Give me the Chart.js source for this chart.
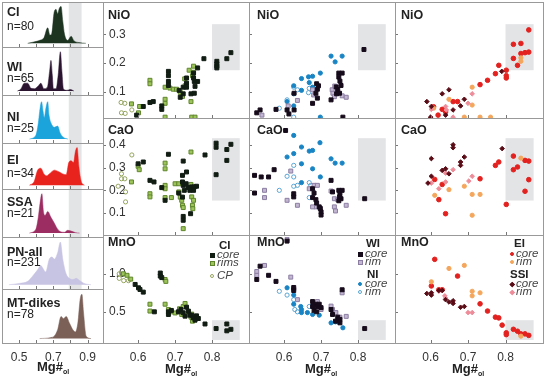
<!DOCTYPE html>
<html>
<head>
<meta charset="utf-8">
<script src="https://cdn.jsdelivr.net/npm/chart.js@4.4.1/dist/chart.umd.min.js"></script>
<style>
  body { margin: 0; background: #fff; overflow: hidden; }
  #fig { position: relative; width: 550px; height: 379px; font-family: 'Liberation Sans', Arial, sans-serif; color: #222; }
  #fig canvas { position: absolute; }
  .t { position: absolute; white-space: nowrap; line-height: 1; }
  .b { font-weight: bold; }
  .i { font-style: italic; color: #444; }
  .mk { position: absolute; box-sizing: border-box; }
</style>
</head>
<body>
<div id="fig"></div>
<script>
// ---------- density curves (Mg#ol, relative height) ----------
const ciDensity = [[0.55,0],[0.58,0.03],[0.62,0.08],[0.645,0.15],[0.667,0.42],[0.68,0.22],[0.69,0.25],[0.705,0.85],[0.716,0.92],[0.725,0.8],[0.735,0.95],[0.745,1.0],[0.755,0.6],[0.765,0.25],[0.784,0.08],[0.804,0.19],[0.82,0.07],[0.85,0.02],[0.89,0]];
const wiDensity = [[0.49,0],[0.51,0.05],[0.53,0.2],[0.55,0.2],[0.57,0.07],[0.59,0.06],[0.61,0.12],[0.627,0.2],[0.645,0.06],[0.665,0.1],[0.678,0.5],[0.686,0.78],[0.694,0.4],[0.70,0.06],[0.716,0.06],[0.728,0.4],[0.741,1.0],[0.75,0.5],[0.759,0.05],[0.78,0.02],[0.80,0.04],[0.82,0]];
const niDensity = [[0.56,0],[0.598,0.1],[0.612,0.4],[0.62,0.7],[0.631,0.95],[0.64,0.7],[0.647,0.55],[0.657,0.8],[0.667,0.95],[0.675,0.6],[0.685,0.42],[0.706,0.3],[0.725,0.33],[0.74,0.15],[0.76,0.04],[0.785,0]];
const eiDensity = [[0.56,0],[0.588,0.1],[0.608,0.4],[0.627,0.45],[0.645,0.3],[0.66,0.25],[0.676,0.3],[0.706,0.4],[0.735,0.35],[0.755,0.3],[0.775,0.28],[0.79,0.6],[0.804,0.65],[0.818,0.6],[0.829,0.9],[0.839,1.0],[0.849,0.5],[0.863,0.1],[0.882,0]];
const ssaDensity = [[0.56,0],[0.598,0.1],[0.612,0.4],[0.622,0.75],[0.633,1.0],[0.642,0.55],[0.652,0.45],[0.667,0.55],[0.686,0.4],[0.706,0.25],[0.725,0.1],[0.745,0.03],[0.765,0.02],[0.784,0.07],[0.804,0.05],[0.83,0.01],[0.853,0]];
const pnDensity = [[0.44,0],[0.50,0.03],[0.55,0.08],[0.578,0.2],[0.608,0.35],[0.627,0.45],[0.637,0.4],[0.655,0.3],[0.676,0.6],[0.692,0.65],[0.706,0.6],[0.725,0.75],[0.741,1.0],[0.755,0.6],[0.775,0.25],[0.794,0.15],[0.814,0.12],[0.833,0.15],[0.853,0.1],[0.88,0.03],[0.92,0]];
const mtDensity = [[0.62,0],[0.68,0.02],[0.706,0.06],[0.725,0.2],[0.745,0.5],[0.759,0.45],[0.775,0.5],[0.794,0.35],[0.814,0.2],[0.829,0.15],[0.843,0.35],[0.857,0.9],[0.867,1.0],[0.876,0.6],[0.892,0.05],[0.92,0]];

const densityNames = ['CI', 'WI', 'NI', 'EI', 'SSA', 'PN-all', 'MT-dikes'];
const densityCounts = ['n=80', 'n=65', 'n=25', 'n=34', 'n=21', 'n=231', 'n=78'];

// ---------- CI (Mg#ol, oxide wt%) ----------
const ciCoreNiO = [[0.778,0.215],[0.813,0.206],[0.813,0.197],[0.813,0.189],[0.813,0.183],[0.84,0.215],[0.851,0.236],[0.682,0.171],[0.682,0.156],[0.682,0.136],[0.682,0.122],[0.75,0.165],[0.75,0.148],[0.752,0.136],[0.754,0.119],[0.731,0.148],[0.731,0.13],[0.731,0.116],[0.761,0.136],[0.722,0.116],[0.722,0.093],[0.711,0.105],[0.714,0.081],[0.743,0.093],[0.752,0.095],[0.664,0.051],[0.664,0.039],[0.641,0.066],[0.632,0.063],[0.614,0.049],[0.596,0.019],[0.761,0.183]];
const ciRimNiO = [[0.632,0.14],[0.632,0.128],[0.673,0.116],[0.673,0.074],[0.673,0.06],[0.686,0.113],[0.695,0.109],[0.704,0.109],[0.714,0.098],[0.727,0.121],[0.75,0.189],[0.75,0.168],[0.747,0.156],[0.72,0.084],[0.743,0.066],[0.582,0.058],[0.604,0.049],[0.601,0.027],[0.673,0.012],[0.745,0.012],[0.754,0.012],[0.738,0.175],[0.726,0.145]];
const ciCpNiO = [[0.554,0.063],[0.564,0.06],[0.555,0.027],[0.565,0.025],[0.583,0.037]];
const ciCoreCaO = [[0.811,0.408],[0.811,0.39],[0.781,0.356],[0.84,0.38],[0.851,0.403],[0.84,0.332],[0.811,0.269],[0.682,0.359],[0.722,0.329],[0.731,0.281],[0.614,0.325],[0.6,0.317],[0.632,0.244],[0.643,0.237],[0.664,0.212],[0.673,0.156],[0.72,0.266],[0.72,0.237],[0.722,0.222],[0.725,0.2],[0.73,0.229],[0.735,0.212],[0.745,0.215],[0.752,0.215],[0.758,0.218],[0.74,0.2],[0.75,0.2],[0.71,0.188],[0.72,0.17],[0.722,0.085],[0.722,0.068],[0.742,0.097]];
const ciRimCaO = [[0.673,0.32],[0.673,0.295],[0.6,0.306],[0.603,0.291],[0.582,0.237],[0.632,0.185],[0.632,0.171],[0.673,0.222],[0.673,0.207],[0.673,0.168],[0.69,0.168],[0.7,0.229],[0.71,0.229],[0.743,0.369],[0.743,0.226],[0.745,0.171],[0.75,0.156],[0.747,0.134],[0.748,0.119],[0.71,0.193],[0.714,0.17],[0.718,0.156],[0.72,0.134],[0.722,0.124],[0.722,0.031]];
const ciCpCaO = [[0.583,0.356],[0.555,0.273],[0.555,0.251],[0.564,0.251],[0.546,0.218],[0.566,0.193],[0.566,0.149]];
const ciCoreMnO = [[0.592,0.86],[0.601,0.816],[0.605,0.794],[0.614,0.759],[0.66,1.01],[0.66,0.97],[0.664,0.95],[0.644,0.5],[0.682,0.5],[0.682,0.465],[0.69,0.518],[0.709,0.5],[0.716,0.53],[0.722,0.487],[0.727,0.443],[0.731,0.561],[0.736,0.509],[0.74,0.456],[0.745,0.456],[0.749,0.421],[0.754,0.39],[0.758,0.447],[0.763,0.412],[0.781,0.34],[0.811,0.28],[0.84,0.34],[0.84,0.25],[0.851,0.27]];
const ciRimMnO = [[0.56,1.0],[0.57,0.98],[0.58,0.93],[0.673,0.925],[0.675,0.9],[0.632,0.6],[0.632,0.51],[0.673,0.6],[0.682,0.53],[0.69,0.5],[0.7,0.485],[0.711,0.5],[0.718,0.465],[0.722,0.57],[0.727,0.61],[0.736,0.5],[0.743,0.43],[0.747,0.377],[0.754,0.408],[0.712,0.54],[0.745,0.47]];
const ciCpMnO = [[0.549,1.0],[0.549,0.94],[0.561,0.91],[0.574,0.91]];

// ---------- WI / NI ----------
const wiCoreNiO = [[0.816,0.247],[0.748,0.165],[0.757,0.165],[0.748,0.151],[0.751,0.137],[0.754,0.122],[0.745,0.108],[0.741,0.117],[0.742,0.093],[0.75,0.095],[0.688,0.128],[0.693,0.121],[0.69,0.109],[0.686,0.095],[0.69,0.078],[0.677,0.06],[0.727,0.072],[0.627,0.095],[0.627,0.037],[0.608,0.037],[0.613,0.023],[0.578,0.039],[0.526,0.027],[0.535,0.037],[0.759,0.012]];
const wiRimNiO = [[0.636,0.07],[0.677,0.107],[0.68,0.089],[0.73,0.107],[0.732,0.095],[0.736,0.083],[0.757,0.086],[0.768,0.081],[0.611,0.051],[0.54,0.019],[0.745,0.1],[0.737,0.12]];
const niCoreNiO = [[0.727,0.224],[0.757,0.224],[0.738,0.204],[0.698,0.165],[0.647,0.146],[0.666,0.152],[0.677,0.154],[0.668,0.132],[0.677,0.116],[0.626,0.121],[0.626,0.093],[0.626,0.051],[0.647,0.105],[0.608,0.066],[0.698,0.012]];
const niRimNiO = [[0.626,0.116],[0.636,0.107],[0.668,0.112],[0.666,0.097],[0.608,0.072],[0.587,0.043],[0.626,0.012]];
const wiCoreCaO = [[0.818,0.163],[0.604,0.464],[0.573,0.291],[0.52,0.266],[0.538,0.259],[0.558,0.259],[0.52,0.188],[0.626,0.185],[0.626,0.171],[0.727,0.244],[0.731,0.193],[0.748,0.2],[0.751,0.185],[0.757,0.2],[0.754,0.163],[0.75,0.171],[0.748,0.154],[0.677,0.207],[0.681,0.188],[0.677,0.168],[0.686,0.159],[0.688,0.144],[0.695,0.127],[0.698,0.12],[0.7,0.105],[0.7,0.091]];
const wiRimCaO = [[0.618,0.285],[0.547,0.2],[0.547,0.168],[0.608,0.156],[0.636,0.134],[0.681,0.222],[0.69,0.222],[0.668,0.207],[0.727,0.197],[0.736,0.163],[0.745,0.159],[0.736,0.127],[0.739,0.109],[0.768,0.134],[0.686,0.127],[0.677,0.127]];
const niCoreCaO = [[0.626,0.442],[0.647,0.391],[0.668,0.373],[0.677,0.376],[0.697,0.41],[0.626,0.362],[0.608,0.347],[0.647,0.317],[0.677,0.295],[0.727,0.339],[0.738,0.32],[0.757,0.32],[0.698,0.259],[0.647,0.234]];
const niRimCaO = [[0.626,0.31],[0.608,0.262],[0.626,0.259],[0.587,0.2],[0.626,0.218],[0.636,0.222],[0.668,0.234],[0.672,0.222],[0.668,0.168]];
const wiCoreMnO = [[0.608,1.43],[0.535,1.1],[0.526,0.925],[0.558,0.98],[0.578,0.9],[0.626,0.82],[0.626,0.78],[0.677,0.635],[0.686,0.6],[0.69,0.57],[0.695,0.6],[0.7,0.555],[0.677,0.57],[0.681,0.52],[0.688,0.5],[0.727,0.53],[0.731,0.465],[0.739,0.377],[0.745,0.43],[0.751,0.4],[0.751,0.355],[0.757,0.79],[0.818,0.28]];
const wiRimMnO = [[0.608,1.45],[0.547,1.11],[0.526,1.03],[0.618,0.956],[0.626,0.8],[0.636,0.66],[0.69,0.635],[0.7,0.53],[0.727,0.575],[0.731,0.53],[0.74,0.49],[0.751,0.43],[0.757,0.75],[0.768,0.44],[0.526,0.98]];
const niCoreMnO = [[0.608,0.816],[0.626,0.72],[0.626,0.6],[0.645,0.57],[0.647,0.53],[0.647,0.49],[0.663,0.49],[0.677,0.465],[0.695,0.456],[0.727,0.355],[0.739,0.368],[0.745,0.377],[0.759,0.29]];
const niRimMnO = [[0.587,0.77],[0.608,0.72],[0.626,0.66],[0.629,0.53],[0.636,0.5],[0.668,0.57]];

// ---------- EI / SSI ----------
const eiCoreNiO = [[0.862,0.315],[0.821,0.265],[0.841,0.268],[0.841,0.233],[0.852,0.236],[0.862,0.238],[0.821,0.216],[0.832,0.192],[0.802,0.175],[0.802,0.156],[0.802,0.148],[0.782,0.192],[0.773,0.163],[0.752,0.14],[0.732,0.125],[0.672,0.066],[0.66,0.066],[0.631,0.039],[0.62,0.019],[0.64,0.03],[0.608,0.048]];
const eiRimNiO = [[0.841,0.218],[0.841,0.206],[0.711,0.116],[0.711,0.054],[0.649,0.074],[0.608,0.043],[0.69,0.012],[0.732,0.012],[0.76,0.012]];
const ssiCoreNiO = [[0.59,0.066],[0.631,0.093],[0.649,0.107],[0.69,0.074],[0.68,0.051],[0.66,0.037],[0.64,0.019],[0.602,0.049],[0.79,0.171],[0.60,0.012]];
const ssiRimNiO = [[0.7,0.06],[0.711,0.093],[0.64,0.049],[0.642,0.037],[0.602,0.039],[0.66,0.012]];
const eiCoreCaO = [[0.821,0.351],[0.852,0.332],[0.862,0.329],[0.832,0.303],[0.821,0.291],[0.862,0.247],[0.852,0.196],[0.802,0.138],[0.782,0.325],[0.773,0.31],[0.732,0.251],[0.631,0.226],[0.611,0.248],[0.622,0.159],[0.64,0.097]];
const eiRimCaO = [[0.841,0.342],[0.611,0.178],[0.649,0.203],[0.69,0.218],[0.711,0.182],[0.732,0.182],[0.711,0.09]];
const ssiCoreCaO = [[0.66,0.401],[0.66,0.388],[0.602,0.34],[0.69,0.347],[0.68,0.325],[0.68,0.31],[0.64,0.295],[0.631,0.288],[0.649,0.273],[0.602,0.262],[0.593,0.232],[0.791,0.384]];
const ssiRimCaO = [[0.66,0.291],[0.64,0.276],[0.64,0.237],[0.602,0.232],[0.622,0.207],[0.711,0.262],[0.702,0.241]];
const eiCoreMnO = [[0.611,1.19],[0.672,0.97],[0.732,0.605],[0.752,0.51],[0.773,0.43],[0.782,0.42],[0.791,0.325],[0.802,0.224],[0.802,0.2],[0.821,0.27],[0.832,0.245],[0.841,0.21],[0.852,0.21],[0.862,0.19],[0.602,0.84],[0.622,0.79],[0.631,0.79]];
const eiRimMnO = [[0.649,1.07],[0.69,1.11],[0.602,0.895],[0.711,0.77],[0.711,0.71],[0.732,0.75],[0.841,0.18]];
const ssiCoreMnO = [[0.59,0.74],[0.602,0.75],[0.602,0.72],[0.622,0.78],[0.631,0.78],[0.64,0.66],[0.649,0.63],[0.66,0.645],[0.66,0.61],[0.68,0.56],[0.69,0.57]];
const ssiRimMnO = [[0.622,0.77],[0.638,0.71],[0.64,0.68],[0.7,0.49],[0.711,0.49]];

// ---------- ticks and shaded Mg# > 0.8 fields ----------
const mgTicks = [0.6, 0.7, 0.8];
const densityTicks = [0.5, 0.6, 0.7, 0.8, 0.9];
const densityLabels = [0.5, 0.7, 0.9];
const nioTicks = [0.1, 0.2, 0.3];
const caoTicks = [0.1, 0.2, 0.3, 0.4];
const mnoTicks = [0.5, 1.0];
const densityBand = [0.79, 0.865];
const nioBox = [0.8, 0.875, 0.175, 0.335];
const caoBox = [0.8, 0.875, 0.155, 0.43];
const mnoBox = [0.8, 0.875, 0.13, 0.39];

// ---------- layout ----------
const fig = document.getElementById('fig');
const FONT = "'Liberation Sans', Arial, sans-serif";
Chart.defaults.font.family = FONT;
Chart.defaults.color = '#333';

const leftX = [2, 103];
const densTop = [2, 47, 95, 143, 189, 237, 289, 343];
const colEdge = [103, 249, 395, 543];
const rowEdge = [2, 118, 235, 343];
const AXIS_H = 22;

const densityColors = ['#1d3520', '#2b1430', '#1ba3dc', '#e8231e', '#9c2d62', '#c7c3e3', '#7b6058'];
const markStyle = {
  ciCore: { pointStyle: 'rect', pointRadius: 2.8, pointBackgroundColor: '#111c13', pointBorderColor: '#111c13' },
  ciRim:  { pointStyle: 'rect', pointRadius: 2.8, pointBackgroundColor: '#9cc45a', pointBorderColor: '#5f852b' },
  ciCP:   { pointStyle: 'circle', pointRadius: 2.1, pointBackgroundColor: 'rgba(0,0,0,0)', pointBorderColor: '#94a35e' },
  wiCore: { pointStyle: 'rect', pointRadius: 2.8, pointBackgroundColor: '#160b1a', pointBorderColor: '#160b1a' },
  wiRim:  { pointStyle: 'rect', pointRadius: 2.8, pointBackgroundColor: '#c2b6d2', pointBorderColor: '#8c7ea2' },
  niCore: { pointStyle: 'circle', pointRadius: 2.1, pointBackgroundColor: '#1884c4', pointBorderColor: '#1884c4' },
  niRim:  { pointStyle: 'circle', pointRadius: 2.1, pointBackgroundColor: 'rgba(0,0,0,0)', pointBorderColor: '#5aa4d2' },
  eiCore: { pointStyle: 'circle', pointRadius: 2.3, pointBackgroundColor: '#e3211f', pointBorderColor: '#e3211f' },
  eiRim:  { pointStyle: 'circle', pointRadius: 2.1, pointBackgroundColor: '#f4a65c', pointBorderColor: '#f4a65c' },
  ssiCore:{ pointStyle: 'rectRot', pointRadius: 2.3, pointBackgroundColor: '#5a0c16', pointBorderColor: '#5a0c16' },
  ssiRim: { pointStyle: 'rectRot', pointRadius: 2.3, pointBackgroundColor: '#ee8c99', pointBorderColor: '#ee8c99' }
};

// frame + inward tick marks
const frameTicks = {
  id: 'frameTicks',
  afterDraw(chart, args, opts) {
    const { ctx, chartArea: a, scales } = chart;
    ctx.save();
    ctx.lineWidth = 1;
    ctx.strokeStyle = '#777';
    ctx.beginPath();
    (opts.x || []).forEach(v => {
      const px = Math.round(scales.x.getPixelForValue(v)) + 0.5;
      ctx.moveTo(px, a.bottom); ctx.lineTo(px, a.bottom - 3);
    });
    (opts.y || []).forEach(v => {
      const py = Math.round(scales.y.getPixelForValue(v)) + 0.5;
      ctx.moveTo(a.left, py); ctx.lineTo(a.left + 3, py);
    });
    ctx.stroke();
    ctx.strokeStyle = '#999';
    ctx.strokeRect(a.left + 0.5, a.top + 0.5, a.right - a.left, a.bottom - a.top);
    ctx.restore();
  }
};

// grey field behind the marks
const greyField = {
  id: 'greyField',
  beforeDatasetsDraw(chart, args, opts) {
    if (!opts.box) return;
    const { ctx, chartArea: a, scales } = chart;
    const [x0, x1, y0, y1] = opts.box;
    const left = scales.x.getPixelForValue(x0), right = scales.x.getPixelForValue(x1);
    const top = y1 === null ? a.top : scales.y.getPixelForValue(y1);
    const bottom = y0 === null ? a.bottom : scales.y.getPixelForValue(y0);
    ctx.save();
    ctx.fillStyle = '#e3e4e6';
    ctx.fillRect(left, top, right - left, bottom - top);
    ctx.restore();
  }
};

function makeCanvas(x, y, w, h) {
  const c = document.createElement('canvas');
  c.width = w; c.height = h;
  c.style.left = x + 'px'; c.style.top = y + 'px';
  c.style.width = w + 'px'; c.style.height = h + 'px';
  fig.appendChild(c);
  return c.getContext('2d');
}

function addText(html, x, base, size, cls, center) {
  const d = document.createElement('div');
  d.className = 't ' + (cls || '');
  d.innerHTML = html;
  d.style.fontSize = size + 'px';
  d.style.top = (base - 0.86 * size) + 'px';
  d.style.left = x + 'px';
  if (center) d.style.transform = 'translateX(-50%)';
  fig.appendChild(d);
}

function addMarker(x, y, kind) {
  const s = markStyle[kind];
  const d = document.createElement('div');
  d.className = 'mk';
  const size = s.pointStyle === 'rect' ? 5 : 4.5;
  d.style.width = size + 'px'; d.style.height = size + 'px';
  d.style.left = (x - size / 2) + 'px'; d.style.top = (y - size / 2) + 'px';
  d.style.background = s.pointBackgroundColor;
  d.style.border = '1px solid ' + s.pointBorderColor;
  if (s.pointStyle === 'circle') d.style.borderRadius = '50%';
  if (s.pointStyle === 'rectRot') d.style.transform = 'rotate(45deg) scale(0.8)';
  fig.appendChild(d);
}

function xScale(min, max, tickVals, showLabels) {
  return {
    type: 'linear', min, max,
    grid: { display: false }, border: { display: false },
    ticks: { display: showLabels, padding: -1, autoSkip: false, maxRotation: 0,
             font: { size: 12 }, color: '#333', callback: v => v.toFixed(1) },
    afterBuildTicks: s => { s.ticks = tickVals.map(v => ({ value: v })); },
    afterFit: s => { s.height = showLabels ? AXIS_H : 0; s.paddingLeft = 0; s.paddingRight = 0; }
  };
}

function yScale(min, max, tickVals, showLabels) {
  return {
    type: 'linear', min, max,
    grid: { display: false }, border: { display: false },
    ticks: { display: showLabels, mirror: true, padding: 6, autoSkip: false,
             font: { size: 12 }, color: '#333', callback: v => v.toFixed(1) },
    afterBuildTicks: s => { s.ticks = tickVals.map(v => ({ value: v })); },
    afterFit: s => { s.width = 0; s.paddingTop = 0; s.paddingBottom = 0; }
  };
}

// ---------- density column ----------
const densitySeries = [ciDensity, wiDensity, niDensity, eiDensity, ssaDensity, pnDensity, mtDensity];
densitySeries.forEach((series, i) => {
  const last = i === densitySeries.length - 1;
  const top = densTop[i], h = densTop[i + 1] - top;
  const w = leftX[1] - leftX[0];
  const ctx = makeCanvas(leftX[0], top, w + 1, h + 1 + (last ? AXIS_H - 1 : 0));
  new Chart(ctx, {
    type: 'line',
    data: {
      datasets: [{
        data: series.map(([x, y]) => ({ x, y })),
        fill: 'origin',
        backgroundColor: densityColors[i],
        borderColor: densityColors[i],
        borderWidth: 0.5,
        pointRadius: 0,
        cubicInterpolationMode: 'monotone'
      }]
    },
    options: {
      responsive: false, animation: false, devicePixelRatio: 1,
      layout: { padding: { right: 1, bottom: last ? 0 : 1 }, autoPadding: false },
      scales: {
        x: xScale(0.4, 0.99, last ? densityLabels : densityTicks, last),
        y: yScale(-0.1, 1.12, [], false)
      },
      plugins: {
        legend: { display: false }, tooltip: { enabled: false },
        frameTicks: { x: densityTicks },
        greyField: last ? {} : { box: [densityBand[0], densityBand[1], null, null] }
      }
    },
    plugins: [greyField, frameTicks]
  });
});

// ---------- scatter panels ----------
const rows = [
  { label: 'NiO', min: 0.009, max: 0.412, ticks: nioTicks, box: nioBox },
  { label: 'CaO', min: 0.003, max: 0.519, ticks: caoTicks, box: caoBox },
  { label: 'MnO', min: 0.09, max: 1.51, ticks: mnoTicks, box: mnoBox }
];
const columns = [
  [[[ciCoreNiO, 'ciCore'], [ciRimNiO, 'ciRim'], [ciCpNiO, 'ciCP']],
   [[ciCoreCaO, 'ciCore'], [ciRimCaO, 'ciRim'], [ciCpCaO, 'ciCP']],
   [[ciCoreMnO, 'ciCore'], [ciRimMnO, 'ciRim'], [ciCpMnO, 'ciCP']]],
  [[[wiCoreNiO, 'wiCore'], [wiRimNiO, 'wiRim'], [niCoreNiO, 'niCore'], [niRimNiO, 'niRim']],
   [[wiCoreCaO, 'wiCore'], [wiRimCaO, 'wiRim'], [niCoreCaO, 'niCore'], [niRimCaO, 'niRim']],
   [[wiCoreMnO, 'wiCore'], [wiRimMnO, 'wiRim'], [niCoreMnO, 'niCore'], [niRimMnO, 'niRim']]],
  [[[ssiCoreNiO, 'ssiCore'], [ssiRimNiO, 'ssiRim'], [eiRimNiO, 'eiRim'], [eiCoreNiO, 'eiCore']],
   [[ssiCoreCaO, 'ssiCore'], [ssiRimCaO, 'ssiRim'], [eiRimCaO, 'eiRim'], [eiCoreCaO, 'eiCore']],
   [[ssiCoreMnO, 'ssiCore'], [ssiRimMnO, 'ssiRim'], [eiRimMnO, 'eiRim'], [eiCoreMnO, 'eiCore']]]
];

columns.forEach((col, c) => {
  col.forEach((series, r) => {
    const row = rows[r];
    const bottom = r === rows.length - 1;
    const x = colEdge[c], y = rowEdge[r];
    const w = colEdge[c + 1] - x, h = rowEdge[r + 1] - y;
    const ctx = makeCanvas(x, y, w + 1, h + 1 + (bottom ? AXIS_H - 1 : 0));
    new Chart(ctx, {
      type: 'scatter',
      data: {
        datasets: series.map(([pts, kind]) => Object.assign({
          data: pts.map(([px, py]) => ({ x: px, y: py })),
          pointBorderWidth: 1,
          showLine: false
        }, markStyle[kind]))
      },
      options: {
        responsive: false, animation: false, devicePixelRatio: 1,
        layout: { padding: { right: 1, bottom: bottom ? 0 : 1 }, autoPadding: false },
        scales: {
          x: xScale(0.505, 0.9, mgTicks, bottom),
          y: yScale(row.min, row.max, row.ticks, c === 0)
        },
        plugins: {
          legend: { display: false }, tooltip: { enabled: false },
          frameTicks: { x: mgTicks, y: row.ticks },
          greyField: { box: row.box }
        }
      },
      plugins: [greyField, frameTicks]
    });
  });
});

// ---------- text ----------
const densityBase = [[17, 30], [72, 82], [122, 132], [165, 177], [207, 217], [257, 266], [308, 318]];
densityNames.forEach((name, i) => {
  addText(name, 7, densityBase[i][0], 12.5, 'b');
  addText(densityCounts[i], 7, densityBase[i][1], 12);
});

const colLabelX = [108, 257, 401];
const rowLabelBase = [20, 135, 247];
colLabelX.forEach(x => rows.forEach((row, r) => addText(row.label, x, rowLabelBase[r], 12.5, 'b')));

const mgTitle = 'Mg#<span style="font-size:7px;position:relative;top:3px">ol</span>';
addText(mgTitle, 53, 371, 13, 'b', true);
addText(mgTitle, 181, 373, 13, 'b', true);
addText(mgTitle, 321, 373, 13, 'b', true);
addText(mgTitle, 468, 373, 13, 'b', true);

// legends
addText('CI', 219, 250, 11.5, 'b');
addMarker(212, 255, 'ciCore'); addText('core', 217, 259, 11.5, 'i');
addMarker(212, 263, 'ciRim'); addText('rims', 217, 267, 11.5, 'i');
addMarker(212, 276, 'ciCP'); addText('CP', 217, 280, 11.5, 'i');

addText('WI', 366, 248, 11.5, 'b');
addMarker(360, 254, 'wiCore'); addText('core', 365, 258, 11.5, 'i');
addMarker(360, 262, 'wiRim'); addText('rim', 365, 266, 11.5, 'i');
addText('NI', 367, 279, 11.5, 'b');
addMarker(360, 284, 'niCore'); addText('core', 365, 288, 11.5, 'i');
addMarker(360, 292, 'niRim'); addText('rim', 365, 296, 11.5, 'i');

addText('EI', 514, 248, 11.5, 'b');
addMarker(512, 254, 'eiCore'); addText('core', 516, 258, 11.5, 'i');
addMarker(512, 262, 'eiRim'); addText('rim', 516, 266, 11.5, 'i');
addText('SSI', 510, 279, 11.5, 'b');
addMarker(512, 284, 'ssiCore'); addText('core', 516, 288, 11.5, 'i');
addMarker(512, 292, 'ssiRim'); addText('rim', 516, 296, 11.5, 'i');
</script>
</body>
</html>
